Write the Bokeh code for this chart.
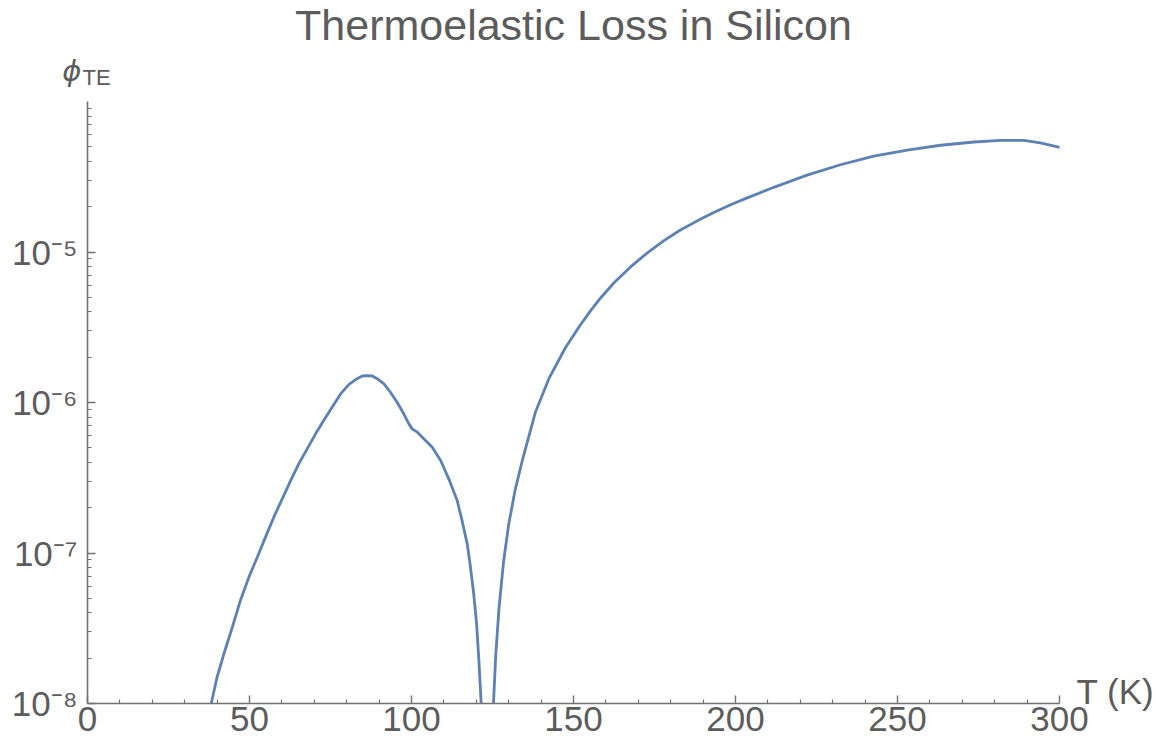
from bokeh.plotting import figure
from bokeh.models import Range1d, FixedTicker, Label
from bokeh.embed import file_html
from bokeh.resources import INLINE

# ---- data ----
T_left = [38.2, 40.0, 42.1, 44.7, 47.2, 49.8, 52.4, 54.9, 57.5, 60.1, 62.7, 65.2,
          67.8, 70.4, 72.9, 75.5, 78.1, 80.7, 83.2, 84.8, 86.3, 87.9, 89.4, 91.5,
          93.5, 95.6, 97.6, 99.2, 100.2, 101.8, 103.8, 106.4, 109.0, 111.5, 114.1,
          115.6, 117.2, 118.2, 119.2, 120.1, 120.8, 121.5]
phi_left = [1.00e-8, 1.50e-8, 2.14e-8, 3.21e-8, 4.84e-8, 6.90e-8, 9.38e-8, 1.27e-7,
            1.73e-7, 2.29e-7, 3.03e-7, 3.91e-7, 4.92e-7, 6.19e-7, 7.59e-7, 9.31e-7,
            1.14e-6, 1.32e-6, 1.44e-6, 1.50e-6, 1.51e-6, 1.50e-6, 1.44e-6, 1.33e-6,
            1.17e-6, 1.00e-6, 8.41e-7, 7.21e-7, 6.68e-7, 6.35e-7, 5.74e-7, 5.05e-7,
            4.12e-7, 3.11e-7, 2.23e-7, 1.64e-7, 1.15e-7, 8.05e-8, 5.36e-8, 3.38e-8,
            1.93e-8, 1.00e-8]

T_right = [125.3, 126.0, 127.0, 128.4, 130.0, 132.0, 134.2, 138.3, 142.4, 147.5,
           152.2, 155.3, 158.3, 162.5, 167.6, 172.7, 177.9, 183.0, 188.2, 193.3,
           198.5, 203.6, 211.8, 222.1, 232.4, 242.7, 253.0, 263.3, 273.6, 281.8,
           289.0, 294.1, 300.0]
phi_right = [1.00e-8, 2.09e-8, 4.27e-8, 8.71e-8, 1.55e-7, 2.63e-7, 4.12e-7, 8.69e-7,
             1.44e-6, 2.31e-6, 3.30e-6, 4.08e-6, 4.93e-6, 6.25e-6, 7.96e-6, 9.84e-6,
             1.19e-5, 1.40e-5, 1.61e-5, 1.83e-5, 2.06e-5, 2.29e-5, 2.69e-5, 3.24e-5,
             3.80e-5, 4.34e-5, 4.76e-5, 5.12e-5, 5.38e-5, 5.52e-5, 5.51e-5, 5.31e-5,
             4.95e-5]

x_ticks = [0, 50, 100, 150, 200, 250, 300]
x_minor = [t for t in range(0, 301, 10) if t % 50 != 0]
y_exponents = [-8, -7, -6, -5]
y_labels = ["10\u207b\u2078", "10\u207b\u2077", "10\u207b\u2076", "10\u207b\u2075"]
y_major = [10.0 ** e for e in y_exponents]
y_minor = [m * 10.0 ** e for e in y_exponents for m in range(2, 10)]

title_text = "Thermoelastic Loss in Silicon"
ylabel_main = "\u03d5"
ylabel_sub = "TE"
xlabel = "T (K)"

# ---- layout (pixels of the 1164x748 canvas) ----
W, H = 1164, 748
AX_LEFT, AX_RIGHT = 87, 1059      # x = 0 .. 300
AX_TOP, AX_BOTTOM = 101, 703      # y = 1e-4 .. 1e-8
X_LO, X_HI = 0, 300
E_LO, E_HI = -8, -4
ppu = (AX_RIGHT - AX_LEFT) / (X_HI - X_LO)
ppd = (AX_BOTTOM - AX_TOP) / (E_HI - E_LO)
x_range = Range1d(X_LO - AX_LEFT / ppu, X_HI + (W - AX_RIGHT) / ppu)
y_range = Range1d(10 ** (E_LO - (H - AX_BOTTOM) / ppd), 10 ** (E_HI + AX_TOP / ppd))

FONT = "Liberation Sans"
TEXT = "#5c5c5c"
AXIS = "#727272"
LINE = "#5E81B5"

p = figure(width=W, height=H, x_range=x_range, y_range=y_range,
           y_axis_type="log", output_backend="svg", toolbar_location=None,
           min_border=0, min_border_left=0, min_border_right=0,
           min_border_top=0, min_border_bottom=0)
p.outline_line_color = None
p.grid.visible = False
p.background_fill_color = "white"
p.border_fill_color = "white"

p.line(T_left, phi_left, line_color=LINE, line_width=2.8, line_join="round")
p.line(T_right, phi_right, line_color=LINE, line_width=2.8, line_join="round")

for ax in (p.xaxis[0], p.yaxis[0]):
    ax.axis_line_color = AXIS
    ax.axis_line_width = 1.6
    ax.major_tick_line_color = AXIS
    ax.minor_tick_line_color = AXIS
    ax.major_tick_line_width = 1.4
    ax.minor_tick_line_width = 1.2
    ax.major_tick_in = 8
    ax.major_tick_out = 0
    ax.minor_tick_in = 4
    ax.minor_tick_out = 0
    ax.major_label_text_font = FONT
    ax.major_label_text_font_size = "35px"
    ax.major_label_text_color = TEXT

xa, ya = p.xaxis[0], p.yaxis[0]
xa.ticker = FixedTicker(ticks=x_ticks, minor_ticks=x_minor)
xa.bounds = (X_LO, X_HI)
xa.fixed_location = 10.0 ** E_LO
xa.major_label_standoff = 3
ya.ticker = FixedTicker(ticks=y_major, minor_ticks=y_minor)
ya.bounds = (10.0 ** E_LO, 10.0 ** E_HI)
ya.fixed_location = X_LO
ya.major_label_overrides = {v: s for v, s in zip(y_major, y_labels)}
ya.major_label_standoff = 10

top = 10.0 ** E_HI
p.add_layout(Label(x=(X_LO + X_HI) / 2, y=top, y_offset=77, text=title_text,
                   text_align="center", text_baseline="alphabetic",
                   text_font=FONT, text_font_size="43px", text_color=TEXT))
p.add_layout(Label(x=X_LO, y=top, x_offset=-6, y_offset=31, text=ylabel_main,
                   text_align="right", text_baseline="alphabetic",
                   text_font="DejaVu Sans", text_font_style="italic",
                   text_font_size="29px", text_color=TEXT))
p.add_layout(Label(x=X_LO, y=top, x_offset=-5, y_offset=24, text=ylabel_sub,
                   text_align="left", text_baseline="alphabetic",
                   text_font=FONT, text_font_size="22px", text_color=TEXT))
p.add_layout(Label(x=X_HI, y=10.0 ** E_LO, x_offset=17, y_offset=12, text=xlabel,
                   text_align="left", text_baseline="alphabetic",
                   text_font=FONT, text_font_size="35px", text_color=TEXT))

open("out.html", "w").write(file_html(p, INLINE))
